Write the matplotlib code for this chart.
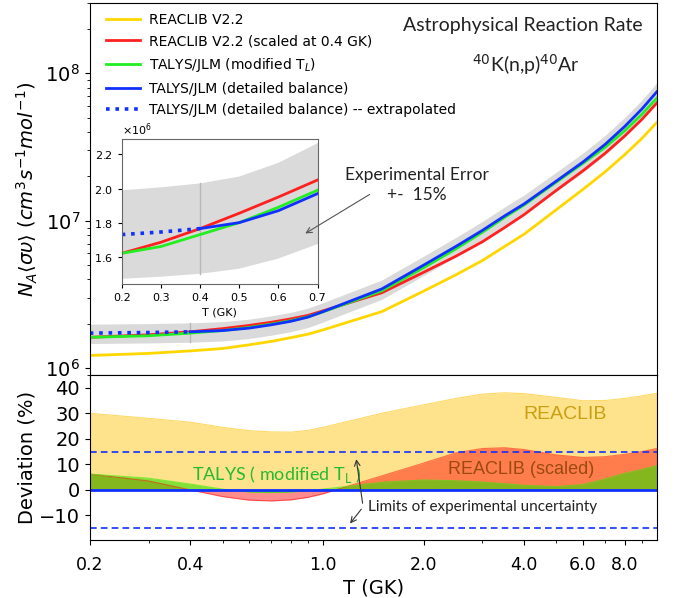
import numpy as np
import matplotlib.pyplot as plt
from matplotlib.ticker import FixedLocator, FixedFormatter, NullFormatter, ScalarFormatter

# temperature grid (GK)
T = np.array([0.2, 0.3, 0.4, 0.5, 0.6, 0.7, 0.8, 0.9, 1.0, 1.5, 2.0, 2.5,
              3.0, 3.5, 4.0, 5.0, 6.0, 7.0, 8.0, 9.0, 10.0])

# reaction rates N_A<sigma v>
rate_reaclib = np.array([1.22e6, 1.26e6, 1.31e6, 1.36e6, 1.44e6, 1.52e6, 1.61e6, 1.70e6,
                         1.82e6, 2.42e6, 3.33e6, 4.3e6, 5.37e6, 6.7e6, 8.1e6, 1.19e7,
                         1.63e7, 2.15e7, 2.8e7, 3.6e7, 4.65e7])
rate_scaled = np.array([1.62e6, 1.685e6, 1.765e6, 1.855e6, 1.95e6, 2.05e6, 2.16e6, 2.28e6,
                        2.45e6, 3.25e6, 4.47e6, 5.75e6, 7.2e6, 9.0e6, 1.10e7, 1.61e7,
                        2.18e7, 2.87e7, 3.75e7, 4.85e7, 6.3e7])
rate_talys_tl = np.array([1.62e6, 1.66e6, 1.73e6, 1.80e6, 1.89e6, 1.99e6, 2.10e6, 2.23e6,
                          2.41e6, 3.35e6, 4.8e6, 6.45e6, 8.35e6, 1.055e7, 1.28e7, 1.83e7,
                          2.45e7, 3.15e7, 4.07e7, 5.25e7, 6.8e7])
rate_talys_db = np.array([1.73e6, 1.745e6, 1.765e6, 1.80e6, 1.87e6, 1.97e6, 2.08e6, 2.22e6,
                          2.42e6, 3.45e6, 5.0e6, 6.7e6, 8.6e6, 1.08e7, 1.30e7, 1.86e7,
                          2.5e7, 3.3e7, 4.35e7, 5.7e7, 7.5e7])
exp_err = 0.15  # experimental error +- 15%
T_extrap = 0.4  # below this the detailed-balance rate is extrapolated

# deviations (%) relative to TALYS/JLM detailed balance
dev_reaclib = np.array([30, 28, 26.5, 24.5, 23.2, 22.7, 22.6, 23.3, 24.5, 30, 33.3, 35.8,
                        37.5, 38, 37.7, 36.2, 34.9, 35, 35.8, 36.8, 37.8])
dev_scaled = np.array([6.2, 3.5, 0, -2.6, -4, -4.3, -3.9, -2.9, -1.5, 5.5, 10.5, 14.5,
                       16.2, 16.5, 15.8, 13.7, 12.7, 13, 13.9, 15, 16.2])
dev_talys = np.array([6.2, 4.6, 2.3, 0.3, -0.8, -1.0, -0.8, -0.3, 0.3, 3.0, 3.9, 3.6,
                      3.1, 2.4, 1.8, 1.3, 2.1, 4.3, 6.5, 8.0, 9.5])

xtick_major = [0.2, 0.4, 1.0, 2.0, 4.0, 6.0, 8.0]
xtick_labels = ['0.2', '0.4', '1.0', '2.0', '4.0', '6.0', '8.0']
xtick_minor = [0.3, 0.5, 0.6, 0.7, 0.8, 0.9, 3.0, 5.0, 7.0, 9.0]

c_yel, c_red, c_grn, c_blu = '#FFD700', '#FF2020', '#22EE22', '#1030FF'
band_c = '#dadada'

ann_font = 'Lato'

fig = plt.figure(figsize=(6.8, 5.98), dpi=100)
ax = fig.add_axes([0.132, 0.373, 0.834, 0.622])
axd = fig.add_axes([0.132, 0.097, 0.834, 0.276], sharex=ax)


def draw_rates(a, lw=2, with_reaclib=True):
    lo = rate_talys_db * (1 - exp_err)
    hi = rate_talys_db * (1 + exp_err)
    a.fill_between(T, lo, hi, color=band_c, lw=0)
    i = np.where(T == T_extrap)[0][0]
    a.plot([T[i], T[i]], [lo[i], hi[i]], color='#b8b8b8', lw=1)
    if with_reaclib:
        a.plot(T, rate_reaclib, color=c_yel, lw=lw, label='REACLIB V2.2')
    a.plot(T, rate_scaled, color=c_red, lw=lw, label='REACLIB V2.2 (scaled at 0.4 GK)')
    a.plot(T, rate_talys_tl, color=c_grn, lw=lw, label='TALYS/JLM (modified T$_L$)')
    m1 = T >= T_extrap
    m2 = T <= T_extrap
    a.plot(T[m1], rate_talys_db[m1], color=c_blu, lw=lw, label='TALYS/JLM (detailed balance)')
    a.plot(T[m2], rate_talys_db[m2], color=c_blu, lw=lw + 0.6, ls=(0, (1, 1.6)),
           label='TALYS/JLM (detailed balance) -- extrapolated')


draw_rates(ax)
ax.set_xscale('log')
ax.set_yscale('log')
ax.set_xlim(0.2, 10)
ax.set_ylim(9e5, 3e8)
ax.set_ylabel(r'$N_A\langle\sigma\upsilon\rangle\ (cm^3 s^{-1} mol^{-1})$', fontsize=14, labelpad=4)
ax.tick_params(axis='y', labelsize=14)
ax.tick_params(labelbottom=False)
ax.legend(loc='upper left', frameon=False, fontsize=10, handlelength=2.4,
          handletextpad=0.7, borderaxespad=0.3, labelspacing=0.55,
          bbox_to_anchor=(0.012, 1.0))

ax.text(0.975, 0.94, 'Astrophysical Reaction Rate', transform=ax.transAxes,
        ha='right', va='center', fontsize=14, family=ann_font, color='#222222')
ax.text(0.77, 0.835, r'$^{40}$K(n,p)$^{40}$Ar', transform=ax.transAxes,
        ha='center', va='center', fontsize=14, family=ann_font, color='#222222')
ax.text(0.577, 0.511, 'Experimental Error\n+-  15%', transform=ax.transAxes,
        ha='center', va='center', fontsize=12.5, family=ann_font, color='#222222',
        linespacing=1.3)

# inset
axi = fig.add_axes([0.179, 0.525, 0.288, 0.2425])
draw_rates(axi, lw=2, with_reaclib=False)
axi.set_xlim(0.2, 0.7)
axi.set_ylim(1.44e6, 2.29e6)
axi.set_xticks([0.2, 0.3, 0.4, 0.5, 0.6, 0.7])
axi.set_yticks([1.6e6, 1.8e6, 2.0e6, 2.2e6])
fmt = ScalarFormatter(useMathText=True)
fmt.set_powerlimits((0, 0))
axi.yaxis.set_major_formatter(fmt)
axi.yaxis.get_offset_text().set_fontsize(8)
axi.tick_params(labelsize=8, length=3)
axi.set_xlabel('T (GK)', fontsize=8, labelpad=3)
for s in axi.spines.values():
    s.set_color('#666666')
axi.annotate('', xy=(0.6625, 1.728e6), xycoords='data',
             xytext=(372 / 680, 1 - 193 / 598), textcoords='figure fraction',
             arrowprops=dict(arrowstyle='->', color='#555555', lw=0.8))

# deviation panel
axd.fill_between(T, 0, dev_reaclib, color='#FFD966', alpha=0.75, lw=0)
axd.plot(T, dev_reaclib, color='#FFD966', lw=0.8)
axd.fill_between(T, 0, dev_scaled, color='red', alpha=0.45, lw=0)
axd.plot(T, dev_scaled, color='red', lw=0.8, alpha=0.5)
axd.fill_between(T, 0, dev_talys, color='#33DD00', alpha=0.6, lw=0)
axd.plot(T, dev_talys, color='#33EE00', lw=0.8, alpha=0.6)
axd.axhline(15, color='#1030FF', ls='--', lw=1.2, dashes=(4, 2.5))
axd.axhline(-15, color='#1030FF', ls='--', lw=1.2, dashes=(4, 2.5))
axd.axhline(0, color=c_blu, lw=2)
axd.set_ylim(-19.6, 45)
axd.set_yticks([-10, 0, 10, 20, 30, 40])
axd.set_ylabel('Deviation (%)', fontsize=14, labelpad=2)
axd.set_xlabel('T (GK)', fontsize=14, labelpad=3)
axd.tick_params(axis='y', labelsize=14)
axd.tick_params(axis='x', which='major', labelsize=12.5, pad=8)

axd.xaxis.set_major_locator(FixedLocator(xtick_major))
axd.xaxis.set_major_formatter(FixedFormatter(xtick_labels))
axd.xaxis.set_minor_locator(FixedLocator(xtick_minor))
axd.xaxis.set_minor_formatter(NullFormatter())
axd.set_xlim(0.2, 10)

axd.text(5.3, 29.4, 'REACLIB', ha='center', va='center', fontsize=14,
         color='#C8A010', family='Liberation Sans')
axd.text(3.92, 7.8, 'REACLIB (scaled)', ha='center', va='center', fontsize=13,
         color='#9A4A10', family='Liberation Sans')
axd.text(0.405, 5.9, 'TALYS ( modified T$_\\mathregular{L}$ )', ha='left', va='center',
         fontsize=13, color='#22BB33', family=ann_font)
axd.text(1.36, -6.5, 'Limits of experimental uncertainty', ha='left', va='center',
         fontsize=11, color='#222222', family=ann_font)
axd.annotate('', xy=(1.254, 13.1), xytext=(1.317, -6.3),
             arrowprops=dict(arrowstyle='->', color='#333333', lw=0.8))
axd.annotate('', xy=(1.19, -14), xytext=(1.317, -6.7),
             arrowprops=dict(arrowstyle='->', color='#333333', lw=0.8))

fig.savefig('out.png', dpi=100)
